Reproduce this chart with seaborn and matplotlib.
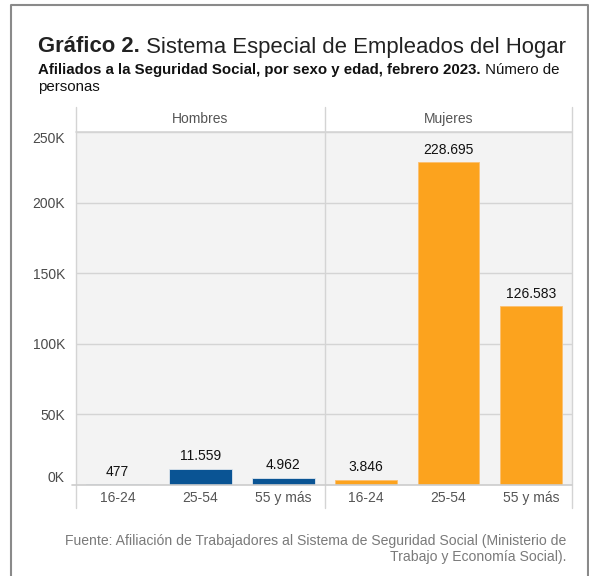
import numpy as np
import pandas as pd
import matplotlib.pyplot as plt
import seaborn as sns
from matplotlib.lines import Line2D

# datos del grafico
sexos = ['Hombres', 'Mujeres']
edades = ['16-24', '25-54', '55 y más']
hombres = [477, 11559, 4962]
mujeres = [3846, 228695, 126583]
yticks = [0, 50000, 100000, 150000, 200000, 250000]
ytick_labels = ['0K', '50K', '100K', '150K', '200K', '250K']

df = pd.DataFrame({
    'sexo': np.repeat(sexos, len(edades)),
    'edad': edades * 2,
    'afiliados': hombres + mujeres,
})

colores = {'Hombres': '#0a5494', 'Mujeres': '#fca31e'}

sns.set_theme(style='white')
plt.rcParams['font.family'] = ['Liberation Sans', 'DejaVu Sans']

W, H = 589, 576
fig = plt.figure(figsize=(W / 100, H / 100), dpi=100)
fig.patch.set_facecolor('white')


def fx(px):
    return px / W


def fy(py):
    return 1 - py / H


top, base = 132, 485
edges = [76, 325, 572]
grid_c = '#d4d4d4'

axes = []
for i, s in enumerate(sexos):
    ax = fig.add_axes([fx(edges[i]), fy(base), fx(edges[i + 1] - edges[i]), (base - top) / H])
    ax.set_facecolor('#f3f3f3')
    sub = df[df['sexo'] == s]
    sns.barplot(data=sub, x='edad', y='afiliados', color=colores[s], width=0.75,
                saturation=1, ax=ax, order=edades, linewidth=0.6, edgecolor='#dfe6ee' if i == 0 else '#fcc070')
    ax.set_ylim(0, 250000)
    ax.set_xlim(-0.5, 2.5)
    for v in yticks[1:]:
        ax.axhline(v, color=grid_c, lw=1, zorder=0)
    ax.set_axisbelow(True)
    for sp in ax.spines.values():
        sp.set_visible(False)
    ax.set_xlabel('')
    ax.set_ylabel('')
    ax.tick_params(axis='both', length=0)
    ax.tick_params(axis='x', pad=4, labelsize=10, labelcolor='#555555')
    ax.set_yticks(yticks)
    if i == 0:
        ax.set_yticklabels(ytick_labels, fontsize=10, color='#4a4a4a')
        ax.tick_params(axis='y', pad=8)
        labs = ax.get_yticklabels()
        labs[0].set_va('bottom')
        labs[-1].set_va('top')
    else:
        ax.set_yticklabels([])
    etiquetas = [f"{v:,}".replace(',', '.') for v in sub['afiliados']]
    ax.bar_label(ax.containers[0], labels=etiquetas, padding=4, fontsize=10, color='#111111')
    # titulo de faceta
    fig.text(fx((edges[i] + edges[i + 1]) / 2), fy(119), s, ha='center', va='center',
             fontsize=10, color='#555555')
    axes.append(ax)

# lineas del marco de facetas
for x in edges:
    fig.add_artist(Line2D([fx(x), fx(x)], [fy(107), fy(508)], color=grid_c, lw=1))
fig.add_artist(Line2D([fx(edges[0]), fx(edges[-1])], [fy(top), fy(top)], color=grid_c, lw=1.2))
fig.add_artist(Line2D([fx(edges[0] - 4), fx(edges[-1])], [fy(base), fy(base)], color='#cccccc', lw=1.2))

# borde exterior
fig.add_artist(Line2D([fx(11), fx(11), fx(587.5), fx(587.5)], [0, fy(5), fy(5), 0],
                      color='#8a8a8a', lw=1.5))

renderer = fig.canvas.get_renderer()


def linea(partes, x0, y, size, color):
    x = x0
    for txt, peso in partes:
        t = fig.text(fx(x), fy(y), txt, fontsize=size, fontweight=peso, color=color,
                     ha='left', va='center')
        bb = t.get_window_extent(renderer=renderer)
        x += bb.width


linea([('Gráfico 2.', 'bold'), (' Sistema Especial de Empleados del Hogar', 'normal')],
      38, 47, 15.9, '#222222')
linea([('Afiliados a la Seguridad Social, por sexo y edad, febrero 2023.', 'bold'),
       (' Número de', 'normal')], 38, 70, 10.85, '#111111')
linea([('personas', 'normal')], 38, 87, 10.85, '#111111')

fig.text(fx(566), fy(541), 'Fuente: Afiliación de Trabajadores al Sistema de Seguridad Social (Ministerio de',
         ha='right', va='center', fontsize=10.1, color='#7a7a7a')
fig.text(fx(566), fy(557), 'Trabajo y Economía Social).',
         ha='right', va='center', fontsize=10.1, color='#7a7a7a')

fig.savefig('out.png', dpi=100, facecolor='white')
